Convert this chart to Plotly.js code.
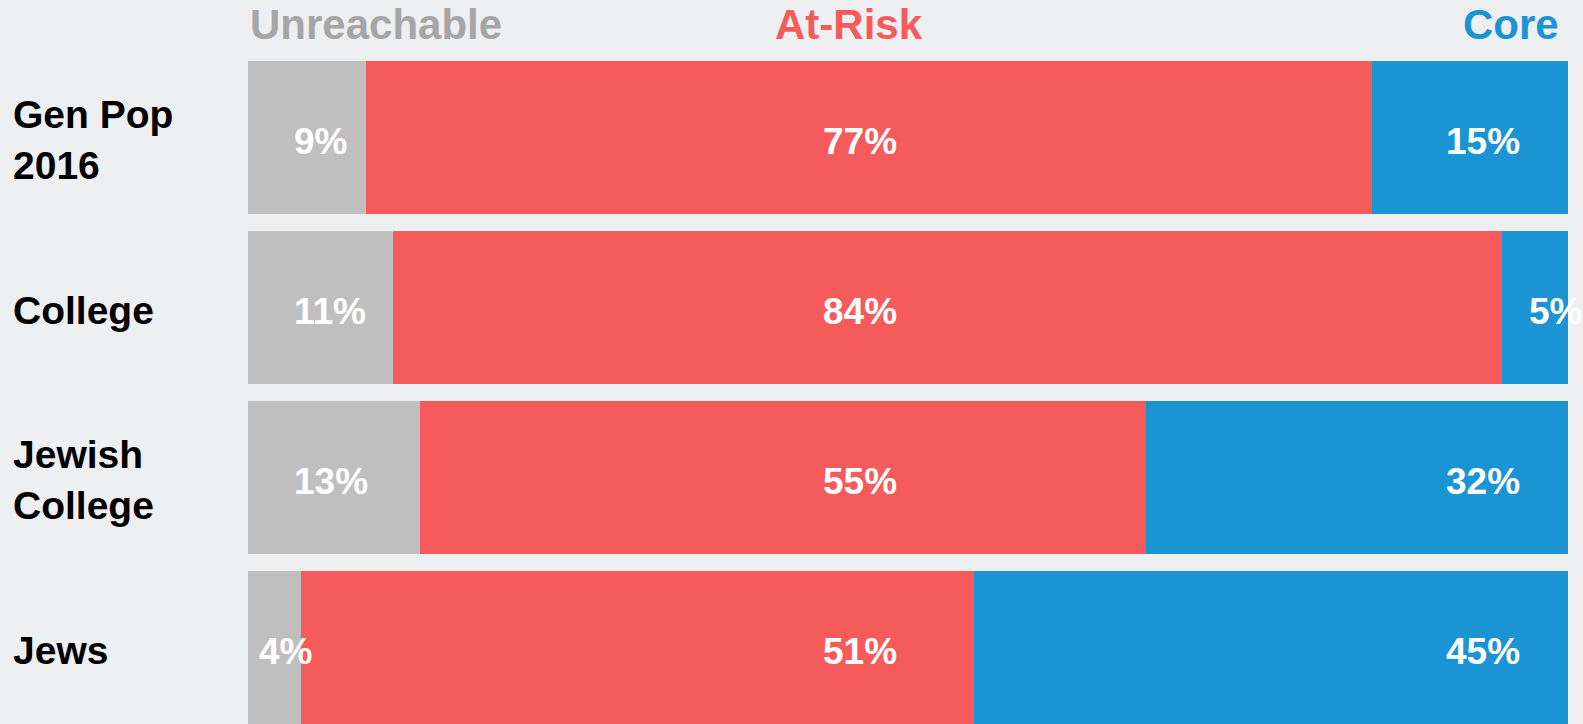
<!DOCTYPE html>
<html>
<head>
<meta charset="utf-8">
<script src="https://cdn.plot.ly/plotly-3.0.1.min.js"></script>
<style>
  html, body { margin: 0; padding: 0; background: #eeeff0; }
  #chart { width: 1583px; height: 724px; }
</style>
</head>
<body>
<div id="chart"></div>
<script>
// ---- data ----
const categories = ['Gen Pop<br>2016', 'College', 'Jewish<br>College', 'Jews'];
const seriesNames = ['Unreachable', 'At-Risk', 'Core'];
const unreachable = [9, 11, 13, 4];
const atRisk = [77, 84, 55, 51];
const core = [15, 5, 32, 45];

// ---- styling ----
const barColors = ['#bfbfbf', '#f65b5b', '#1a94d2'];
const headerColors = ['#a6a6a6', '#f65b5b', '#1a94d2'];
const FONT = '"Liberation Sans", Arial, sans-serif';

const series = [unreachable, atRisk, core];

const traces = series.map((vals, i) => ({
  type: 'bar',
  orientation: 'h',
  name: seriesNames[i],
  y: categories,
  x: vals,
  marker: { color: barColors[i], line: { width: 0 } },
  hoverinfo: 'skip'
}));

const annotations = [];

// header labels
const headerPos = [
  { x: 0.0, xanchor: 'left' },
  { x: 0.4553, xanchor: 'center' },
  { x: 0.9945, xanchor: 'right' }
];
seriesNames.forEach((n, i) => {
  annotations.push({
    xref: 'paper', yref: 'paper',
    x: headerPos[i].x, xanchor: headerPos[i].xanchor,
    y: 1.0417, yanchor: 'middle', yshift: -1,
    text: '<b>' + n + '</b>',
    showarrow: false,
    font: { family: FONT, size: 42, color: headerColors[i] }
  });
});

// category labels (left aligned)
categories.forEach(c => {
  annotations.push({
    xref: 'paper', yref: 'y',
    x: -0.1795, xanchor: 'left', align: 'left',
    y: c, yanchor: 'middle', yshift: -3,
    text: '<b>' + c + '</b>',
    showarrow: false,
    font: { family: FONT, size: 39, color: '#000000' }
  });
});

// value labels: placed in fixed columns, narrow segments labelled from their start
const labelCols = [
  { x: 3.3, xanchor: 'left' },
  { x: 46.35, xanchor: 'center' },
  { x: 90.6, xanchor: 'left' }
];
categories.forEach((c, j) => {
  const total = series.reduce((s, arr) => s + arr[j], 0);
  let start = 0;
  series.forEach((arr, i) => {
    const share = arr[j] / total * 100;
    let x = labelCols[i].x, xanchor = labelCols[i].xanchor;
    if (share < 6) { x = start + 0.7; xanchor = 'left'; }
    if (share < 6 && i === 2) { x = start + 1.9; }
    annotations.push({
      xref: 'x', yref: 'y',
      x: x, xanchor: xanchor,
      y: c, yanchor: 'middle', yshift: -4,
      text: '<b>' + arr[j] + '%</b>',
      showarrow: false,
      font: { family: FONT, size: 37, color: '#ffffff' }
    });
    start += share;
  });
});

const layout = {
  width: 1583, height: 724,
  margin: { l: 248, r: 15, t: 52, b: 0, pad: 0 },
  paper_bgcolor: '#eeeff0',
  plot_bgcolor: 'rgba(0,0,0,0)',
  barmode: 'stack',
  barnorm: 'percent',
  bargap: 0.1,
  showlegend: false,
  xaxis: {
    range: [0, 100], visible: false, showgrid: false, zeroline: false, fixedrange: true
  },
  yaxis: {
    type: 'category', range: [3.45, -0.5], showticklabels: false,
    showgrid: false, zeroline: false, showline: false, ticks: '', fixedrange: true
  },
  annotations: annotations,
  font: { family: FONT }
};

Plotly.newPlot('chart', traces, layout, { displayModeBar: false, staticPlot: true });
</script>
</body>
</html>
